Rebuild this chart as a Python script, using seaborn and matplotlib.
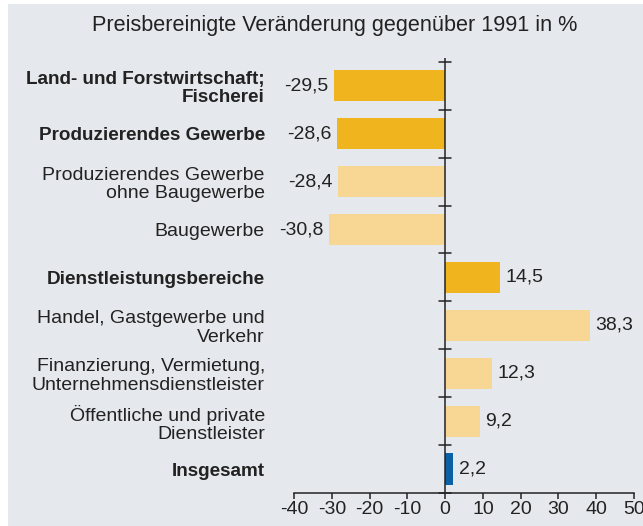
import numpy as np
import seaborn as sns
import matplotlib.pyplot as plt
from matplotlib.patches import Rectangle

# Daten
categories = [
    "Land- und Forstwirtschaft;\nFischerei",
    "Produzierendes Gewerbe",
    "Produzierendes Gewerbe\nohne Baugewerbe",
    "Baugewerbe",
    "Dienstleistungsbereiche",
    "Handel, Gastgewerbe und\nVerkehr",
    "Finanzierung, Vermietung,\nUnternehmensdienstleister",
    "Öffentliche und private\nDienstleister",
    "Insgesamt",
]
values = [-29.5, -28.6, -28.4, -30.8, 14.5, 38.3, 12.3, 9.2, 2.2]
bold = [True, True, False, False, True, False, False, False, True]
bar_colors = ["#f0b41e", "#f0b41e", "#f8d694", "#f8d694", "#f0b41e",
              "#f8d694", "#f8d694", "#f8d694", "#0a5fa5"]
xticks = [-40, -30, -20, -10, 0, 10, 20, 30, 40, 50]

bg = "#e5e8ec"
txt = "#222222"
fs = 14

sns.set_style("white")
plt.rcParams["font.family"] = ["Liberation Sans", "DejaVu Sans"]
plt.rcParams["axes.unicode_minus"] = False

fig = plt.figure(figsize=(6.43, 5.26), dpi=100, facecolor="white")
fig.patches.append(Rectangle((8 / 643, 0), 1, 1 - 4 / 526, transform=fig.transFigure,
                             facecolor=bg, edgecolor="none", zorder=-1))
ax = fig.add_axes([294 / 643, 1 - 493 / 526, 340 / 643, 435 / 526])
ax.set_facecolor(bg)

sns.barplot(x=values, y=categories, hue=categories, palette=bar_colors,
            legend=False, width=0.65, orient="h", ax=ax, saturation=1,
            linewidth=0, edgecolor="none")

ax.set_xlim(-40, 50)
ax.set_ylim(8.5, -0.58)

# Nulllinie mit Trennstrichen
ax.axvline(0, color=txt, lw=1.1, zorder=3)
for b in np.arange(-0.5, 9, 1):
    ax.plot([-1.6, 1.6], [b, b], color=txt, lw=1.1, zorder=3, clip_on=False)

# Werte
for i, v in enumerate(values):
    label = f"{v:.1f}".replace(".", ",")
    if v < 0:
        ax.annotate(label, (v, i), xytext=(-4, 0), textcoords="offset points",
                    ha="right", va="center", fontsize=fs, color=txt)
    else:
        ax.annotate(label, (v, i), xytext=(4, 0), textcoords="offset points",
                    ha="left", va="center", fontsize=fs, color=txt)

# Achsen
for s in ["top", "right", "left"]:
    ax.spines[s].set_visible(False)
ax.spines["bottom"].set_color(txt)
ax.spines["bottom"].set_linewidth(1.1)
ax.set_xticks(xticks)
ax.set_xticklabels([str(t) for t in xticks])
ax.tick_params(axis="x", direction="out", length=4, width=1.1, color=txt,
               labelsize=fs, labelcolor=txt, pad=2, bottom=True)
ax.tick_params(axis="y", length=0, pad=21, labelsize=fs, labelcolor=txt)
ax.set_yticks(range(len(categories)))
ax.set_yticklabels(categories, linespacing=1.12)
for lab, b in zip(ax.get_yticklabels(), bold):
    if b:
        lab.set_fontweight("bold")
        lab.set_fontsize(13.6)
ax.set_xlabel("")
ax.set_ylabel("")

fig.text(335 / 643, 1 - 25 / 526, "Preisbereinigte Veränderung gegenüber 1991 in %",
         ha="center", va="center", fontsize=15.6, color=txt)

fig.savefig("out.png", dpi=100, facecolor=fig.get_facecolor())
